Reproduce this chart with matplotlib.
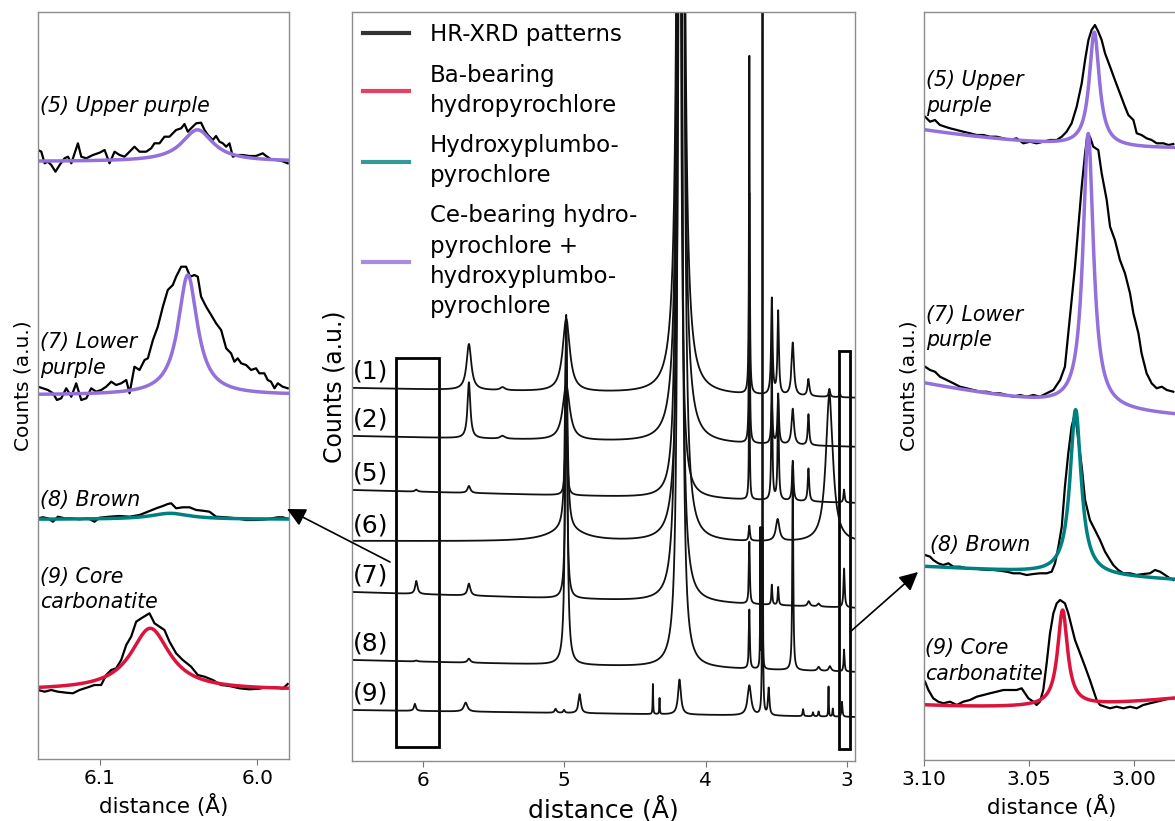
import numpy as np
import matplotlib.pyplot as plt
from matplotlib.patches import Rectangle, FancyArrowPatch
from matplotlib.lines import Line2D

# colours of the fitted phases
c_ba = 'crimson'          # Ba-bearing hydropyrochlore
c_pb = 'teal'             # hydroxyplumbopyrochlore
c_ce = 'mediumpurple'     # Ce-bearing hydropyrochlore + hydroxyplumbopyrochlore

# ---------------- middle panel: HR-XRD patterns (peak tables) ----------------
# each peak: (d-spacing in Å, height, half width in Å); counts are a.u.
pat_labels = ['(1)', '(2)', '(5)', '(6)', '(7)', '(8)', '(9)']
base_left = [373, 325, 271, 220, 169, 101, 51]     # baseline at 6.5 Å
base_right = [363, 314, 258, 218, 153, 89, 44]     # baseline at 2.95 Å

peaks_1 = [(5.673, 46, 0.02), (5.435, 3, 0.02), (4.985, 73, 0.03), (4.175, 4600, 0.01),
           (3.69, 338, 0.003), (3.531, 96, 0.006), (3.486, 83, 0.006), (3.383, 53, 0.01),
           (3.272, 17, 0.008), (3.124, 8, 0.006), (3.05, 4, 0.005)]
peaks_2 = [(5.673, 56, 0.012), (5.435, 3, 0.02), (4.985, 55, 0.03), (4.175, 3900, 0.01),
           (3.69, 250, 0.003), (3.531, 40, 0.006), (3.486, 50, 0.006), (3.383, 36, 0.01),
           (3.272, 31, 0.006)]
peaks_5 = [(6.045, 2, 0.01), (5.673, 7, 0.012), (4.985, 170, 0.005), (4.19, 1800, 0.01),
           (3.69, 150, 0.003), (3.531, 150, 0.004), (3.486, 100, 0.005), (3.383, 40, 0.006),
           (3.272, 33, 0.006), (3.02, 13, 0.005)]
peaks_6 = [(4.985, 200, 0.01), (4.985, 12, 0.15), (4.17, 3000, 0.01), (3.69, 15, 0.005),
           (3.49, 22, 0.015), (3.124, 148, 0.03)]
peaks_7 = [(6.045, 13, 0.01), (5.673, 12, 0.012), (4.985, 250, 0.0074), (4.185, 2400, 0.01),
           (3.69, 62, 0.004), (3.531, 20, 0.004), (3.486, 18, 0.004), (3.27, 5, 0.01),
           (3.2, 3, 0.01), (3.02, 39, 0.005)]
peaks_8 = [(6.045, 1, 0.01), (5.673, 4, 0.012), (4.985, 350, 0.009), (4.18, 3000, 0.008),
           (3.69, 59, 0.004), (3.612, 140, 0.002), (3.597, 140, 0.002), (3.383, 205, 0.004),
           (3.2, 4, 0.01), (3.12, 5, 0.01), (3.02, 22, 0.004)]
peaks_9 = [(6.055, 7, 0.008), (5.696, 9, 0.015), (5.06, 4, 0.008), (5.0, 3, 0.006),
           (4.89, 19, 0.01), (4.372, 30, 0.002), (4.325, 16, 0.002), (4.184, 35, 0.012),
           (3.69, 30, 0.015), (3.597, 900, 0.0015), (3.553, 27, 0.006), (3.31, 7, 0.004),
           (3.24, 4, 0.004), (3.2, 5, 0.004), (3.13, 30, 0.002), (3.1, 8, 0.003),
           (3.035, 15, 0.004)]
all_peaks = [peaks_1, peaks_2, peaks_5, peaks_6, peaks_7, peaks_8, peaks_9]

# ---------------- left panel (~6.05 Å reflection) ----------------
L5_d = [6.1390, 6.1369, 6.1348, 6.1327, 6.1306, 6.1279, 6.1253, 6.1222, 6.1200, 6.1179,
        6.1158, 6.1137, 6.1116, 6.1084, 6.1042, 6.1000, 6.0968, 6.0937, 6.0905, 6.0873,
        6.0842, 6.0810, 6.0779, 6.0747, 6.0705, 6.0673, 6.0652, 6.0620, 6.0589, 6.0557,
        6.0536, 6.0515, 6.0483, 6.0462, 6.0441, 6.0420, 6.0388, 6.0357, 6.0335, 6.0314,
        6.0283, 6.0262, 6.0240, 6.0219, 6.0198, 6.0177, 6.0156, 6.0125, 6.0093, 6.0051,
        6.0009, 5.9966, 5.9945, 5.9914, 5.9882, 5.9850, 5.9808]
L5_c = [609.0, 607.3, 595.7, 597.3, 594.0, 587.3, 594.0, 600.7, 602.3, 595.7,
        605.7, 615.7, 602.3, 600.7, 604.0, 606.3, 609.0, 595.7, 607.3, 604.0,
        602.3, 607.3, 612.3, 607.3, 607.3, 610.7, 615.7, 615.7, 622.3, 622.3,
        625.7, 629.0, 630.7, 635.0, 627.3, 630.7, 635.7, 636.3, 629.0, 624.0,
        619.0, 623.0, 617.3, 615.7, 612.3, 615.7, 602.3, 604.0, 604.0, 603.0,
        603.0, 605.7, 603.0, 599.7, 599.0, 598.3, 595.7]
L7_d = [6.1390, 6.1359, 6.1327, 6.1295, 6.1270, 6.1243, 6.1211, 6.1179, 6.1148, 6.1116,
        6.1084, 6.1053, 6.1021, 6.0990, 6.0958, 6.0926, 6.0895, 6.0863, 6.0831, 6.0810,
        6.0779, 6.0747, 6.0715, 6.0694, 6.0662, 6.0631, 6.0599, 6.0568, 6.0536, 6.0515,
        6.0483, 6.0452, 6.0426, 6.0399, 6.0378, 6.0357, 6.0325, 6.0293, 6.0262, 6.0230,
        6.0198, 6.0167, 6.0146, 6.0125, 6.0103, 6.0072, 6.0040, 6.0009, 5.9988, 5.9956,
        5.9935, 5.9914, 5.9892, 5.9871, 5.9840, 5.9808]
L7_c = [372.3, 370.7, 369.0, 365.7, 359.0, 360.7, 370.7, 362.3, 375.7, 359.0,
        360.7, 370.7, 367.3, 369.0, 372.3, 377.3, 374.0, 375.7, 379.0, 365.7,
        392.3, 389.0, 399.0, 400.7, 419.0, 432.3, 452.3, 469.0, 474.0, 482.3,
        492.3, 492.3, 482.3, 484.0, 482.3, 462.3, 452.3, 444.0, 435.7, 429.0,
        410.7, 405.7, 397.3, 400.7, 395.7, 394.0, 389.0, 390.7, 385.7, 385.7,
        379.0, 377.3, 370.7, 375.7, 372.3, 370.7]
L8_d = [6.1390, 6.1359, 6.1327, 6.1295, 6.1264, 6.1222, 6.1179, 6.1127, 6.1074, 6.1032,
        6.1000, 6.0937, 6.0873, 6.0810, 6.0747, 6.0694, 6.0641, 6.0599, 6.0568, 6.0546,
        6.0515, 6.0473, 6.0430, 6.0388, 6.0346, 6.0304, 6.0262, 6.0198, 6.0135, 6.0072,
        6.0009, 5.9945, 5.9871, 5.9840, 5.9808]
L8_c = [240.7, 241.7, 240.7, 237.3, 242.3, 240.7, 240.7, 239.7, 240.7, 237.3,
        241.3, 242.3, 243.0, 242.3, 244.0, 247.3, 250.7, 253.0, 255.0, 255.7,
        250.7, 251.7, 251.7, 249.0, 248.3, 247.3, 242.3, 241.7, 240.7, 239.0,
        239.0, 239.7, 241.7, 241.7, 240.3]
L9_d = [6.1390, 6.1348, 6.1306, 6.1264, 6.1211, 6.1169, 6.1127, 6.1074, 6.1032, 6.0990,
        6.0958, 6.0926, 6.0895, 6.0863, 6.0831, 6.0800, 6.0768, 6.0736, 6.0684, 6.0652,
        6.0620, 6.0589, 6.0557, 6.0515, 6.0473, 6.0420, 6.0378, 6.0335, 6.0283, 6.0230,
        6.0177, 6.0114, 6.0051, 5.9988, 5.9945, 5.9882, 5.9840, 5.9808]
L9_c = [69.0, 67.3, 69.0, 67.3, 66.3, 65.7, 69.0, 71.7, 74.0, 74.0,
        84.0, 89.0, 90.7, 99.0, 114.0, 122.3, 137.3, 140.7, 145.7, 135.7,
        132.3, 129.0, 117.3, 105.7, 99.0, 92.3, 84.0, 82.3, 79.0, 74.0,
        73.0, 70.7, 69.7, 70.3, 71.7, 71.7, 70.3, 75.0]
# fits: (baseline, centre, height, half width)
L5_fit = (597.5, 6.038, 31.7, 0.012)
L7_fit = (364.0, 6.0441, 120.0, 0.0074)
L8_fit = (239.7, 6.0553, 6.0, 0.015)
L9_fit = (69.0, 6.0679, 61.7, 0.015)

# ---------------- right panel (~3.02 Å reflection) ----------------
R5_d = [3.0995, 3.0971, 3.0948, 3.0924, 3.0900, 3.0876, 3.0844, 3.0813, 3.0781, 3.0749,
        3.0717, 3.0686, 3.0654, 3.0622, 3.0591, 3.0559, 3.0527, 3.0495, 3.0464, 3.0432,
        3.0400, 3.0368, 3.0344, 3.0321, 3.0297, 3.0273, 3.0249, 3.0233, 3.0217, 3.0202,
        3.0186, 3.0170, 3.0154, 3.0138, 3.0114, 3.0091, 3.0067, 3.0043, 3.0027, 3.0003,
        2.9987, 2.9964, 2.9940, 2.9916, 2.9892, 2.9860, 2.9836, 2.9813]
R5_c = [643.3, 638.3, 640.0, 635.0, 633.3, 631.7, 630.0, 628.3, 626.7, 625.0,
        625.0, 623.3, 623.3, 621.7, 620.0, 621.7, 616.7, 618.3, 616.7, 618.3,
        620.0, 620.0, 623.3, 628.3, 636.7, 653.3, 676.7, 700.0, 720.0, 730.0,
        735.0, 728.3, 720.0, 706.7, 693.3, 680.0, 666.7, 653.3, 645.0, 640.0,
        626.7, 625.0, 621.7, 620.0, 616.7, 616.7, 615.0, 616.0]
R7_d = [3.0995, 3.0971, 3.0948, 3.0924, 3.0892, 3.0860, 3.0829, 3.0797, 3.0765, 3.0733,
        3.0702, 3.0670, 3.0638, 3.0606, 3.0575, 3.0543, 3.0511, 3.0479, 3.0448, 3.0416,
        3.0384, 3.0352, 3.0329, 3.0313, 3.0297, 3.0281, 3.0265, 3.0249, 3.0233, 3.0222,
        3.0210, 3.0194, 3.0170, 3.0154, 3.0130, 3.0114, 3.0091, 3.0067, 3.0043, 3.0019,
        3.0003, 2.9979, 2.9964, 2.9940, 2.9916, 2.9892, 2.9868, 2.9844, 2.9813]
R7_c = [393.3, 390.0, 388.3, 383.3, 380.0, 376.7, 373.3, 371.7, 370.0, 368.3,
        368.3, 366.7, 366.7, 365.0, 363.3, 365.0, 363.3, 365.0, 363.3, 366.7,
        370.0, 380.0, 393.3, 426.7, 460.0, 493.3, 533.3, 573.3, 606.7, 625.0,
        623.3, 613.3, 610.0, 586.7, 560.0, 533.3, 520.0, 500.0, 486.7, 466.7,
        446.7, 426.7, 406.7, 386.7, 376.7, 371.7, 373.3, 370.0, 368.3]
R8_d = [3.0995, 3.0971, 3.0956, 3.0932, 3.0908, 3.0884, 3.0860, 3.0829, 3.0797, 3.0765,
        3.0733, 3.0702, 3.0670, 3.0638, 3.0606, 3.0575, 3.0543, 3.0511, 3.0479, 3.0448,
        3.0416, 3.0392, 3.0376, 3.0360, 3.0344, 3.0329, 3.0313, 3.0297, 3.0281, 3.0265,
        3.0249, 3.0233, 3.0210, 3.0186, 3.0162, 3.0138, 3.0114, 3.0099, 3.0075, 3.0051,
        3.0019, 2.9987, 2.9956, 2.9924, 2.9900, 2.9876, 2.9852, 2.9829, 2.9813]
R8_c = [205.0, 203.3, 200.0, 196.7, 195.0, 196.7, 193.3, 193.3, 191.7, 191.7,
        190.7, 190.0, 190.0, 189.3, 188.3, 186.7, 186.7, 185.0, 186.0, 186.7,
        186.7, 188.3, 196.7, 213.3, 233.3, 273.3, 306.7, 333.3, 346.7, 320.0,
        293.3, 260.0, 240.0, 230.0, 220.0, 208.3, 200.0, 195.0, 190.0, 186.7,
        186.7, 185.0, 186.0, 186.7, 190.0, 188.3, 185.0, 181.7, 180.0]
R9_d = [3.0995, 3.0979, 3.0956, 3.0932, 3.0908, 3.0876, 3.0844, 3.0813, 3.0781, 3.0749,
        3.0717, 3.0686, 3.0654, 3.0622, 3.0591, 3.0559, 3.0535, 3.0519, 3.0503, 3.0479,
        3.0464, 3.0448, 3.0432, 3.0416, 3.0400, 3.0384, 3.0368, 3.0352, 3.0329, 3.0313,
        3.0297, 3.0281, 3.0257, 3.0233, 3.0210, 3.0194, 3.0178, 3.0162, 3.0138, 3.0114,
        3.0083, 3.0051, 3.0019, 2.9987, 2.9956, 2.9924, 2.9892, 2.9860, 2.9829, 2.9813]
R9_c = [78.3, 70.0, 61.7, 58.3, 56.7, 58.3, 55.0, 58.3, 60.0, 63.3,
        65.0, 66.7, 68.3, 70.0, 70.0, 70.0, 71.7, 66.7, 61.7, 58.3,
        55.0, 58.3, 70.0, 96.7, 126.7, 146.7, 156.7, 160.0, 156.7, 146.7,
        133.3, 120.0, 106.7, 93.3, 80.0, 70.0, 60.0, 55.0, 53.3, 51.7,
        53.3, 51.7, 53.3, 51.7, 55.0, 56.7, 58.3, 60.0, 61.7, 61.7]
# fits: background b0 + b1*(d-3.04) + b2*(d-3.04)^2, then (centre, height, half width)
R5_bg, R5_pk = (616.5, 151.9, 1285), (3.0189, 114, 0.0029)
R7_bg, R7_pk = (357.0, 267.5, 1077), (3.0218, 274, 0.003)
R8_bg, R8_pk = (186.7, 112.0, 0), (3.0278, 165, 0.0032)
R9_bg, R9_pk = (54.08, -56.5, 1233), (3.0340, 95.5, 0.00286)


def lorentz(x, c, h, g):
    return h * g**2 / ((x - c)**2 + g**2)


plt.rcParams['font.family'] = 'DejaVu Sans'
fig = plt.figure(figsize=(11.75, 8.21), dpi=100)
ax_l = fig.add_axes([38/1175, 1-759/821, 251/1175, 747/821])
ax_m = fig.add_axes([352/1175, 1-761/821, 503/1175, 749/821])
ax_r = fig.add_axes([924/1175, 1-760/821, 256/1175, 748/821])

for ax in (ax_l, ax_m, ax_r):
    ax.set_yticks([])
    for s in ax.spines.values():
        s.set_color('0.55')
        s.set_linewidth(1.0)
    ax.tick_params(axis='x', colors='0.45', labelcolor='black', labelsize=14.5, length=4)

# ---- middle ----
xx = np.linspace(2.94, 6.5, 14000)
for lab, bl, br, pk in zip(pat_labels, base_left, base_right, all_peaks):
    y = bl + (br - bl) * (6.5 - xx) / (6.5 - 2.95)
    for c, h, g in pk:
        y = y + lorentz(xx, c, h, g)
    ax_m.plot(xx, y, color='#111111', lw=1.3)
    ax_m.text(0.002, bl + 16, lab, transform=ax_m.get_yaxis_transform(),
              fontsize=18, ha='left', va='center')
ax_m.set_xlim(6.5, 2.943)
ax_m.set_ylim(0, 749)
ax_m.set_xticks([6, 5, 4, 3])
ax_m.set_xlabel('distance (Å)', fontsize=18)
ax_m.set_ylabel('Counts (a.u.)', fontsize=17)
ax_m.add_patch(Rectangle((5.887, 14), 6.19 - 5.887, 389, fill=False, ec='black', lw=2))
ax_m.add_patch(Rectangle((2.979, 12), 3.057 - 2.979, 398, fill=False, ec='black', lw=2))

handles = [Line2D([], [], color='black', lw=3, alpha=0.8),
           Line2D([], [], color=c_ba, lw=3, alpha=0.8),
           Line2D([], [], color=c_pb, lw=3, alpha=0.8),
           Line2D([], [], color=c_ce, lw=3, alpha=0.8)]
labels = ['HR-XRD patterns', 'Ba-bearing\nhydropyrochlore', 'Hydroxyplumbo-\npyrochlore',
          'Ce-bearing hydro-\npyrochlore +\nhydroxyplumbo-\npyrochlore']
leg = ax_m.legend(handles, labels, loc='upper left', frameon=False, fontsize=16.5,
                  borderaxespad=0.1, labelspacing=0.75, handletextpad=0.9)
for t in leg.get_texts():
    t.set_linespacing(1.4)

# ---- left ----
xl = np.linspace(5.975, 6.145, 800)
for d, c in [(L5_d, L5_c), (L7_d, L7_c), (L8_d, L8_c), (L9_d, L9_c)]:
    ax_l.plot(d, c, color='black', lw=1.6)
for fit, col in [(L5_fit, c_ce), (L7_fit, c_ce), (L8_fit, c_pb), (L9_fit, c_ba)]:
    b, c, h, g = fit
    ax_l.plot(xl, b + lorentz(xl, c, h, g), color=col, lw=2.5)
ax_l.set_xlim(6.139, 5.980)
ax_l.set_ylim(0, 747)
ax_l.set_xticks([6.1, 6.0])
ax_l.set_xlabel('distance (Å)', fontsize=15.5)
ax_l.set_ylabel('Counts (a.u.)', fontsize=14.5)
tkw = dict(transform=ax_l.transAxes, fontsize=14.8, style='italic', ha='left',
           va='center', linespacing=1.35)
ax_l.text(0.008, 0.874, '(5) Upper purple', **tkw)
ax_l.text(0.008, 0.541, '(7) Lower\npurple', **tkw)
ax_l.text(0.008, 0.347, '(8) Brown', **tkw)
ax_l.text(0.008, 0.227, '(9) Core\ncarbonatite', **tkw)

# ---- right ----
xr = np.linspace(2.97, 3.105, 1500)
for d, c in [(R5_d, R5_c), (R7_d, R7_c), (R8_d, R8_c), (R9_d, R9_c)]:
    ax_r.plot(d, c, color='black', lw=1.6)
for bg, pk, col in [(R5_bg, R5_pk, c_ce), (R7_bg, R7_pk, c_ce),
                    (R8_bg, R8_pk, c_pb), (R9_bg, R9_pk, c_ba)]:
    u = xr - 3.04
    y = bg[0] + bg[1] * u + bg[2] * u**2 + lorentz(xr, *pk)
    ax_r.plot(xr, y, color=col, lw=2.5)
ax_r.set_xlim(3.10, 2.9781)
ax_r.set_ylim(0, 748)
ax_r.set_xticks([3.10, 3.05, 3.00])
ax_r.set_xticklabels(['3.10', '3.05', '3.00'])
ax_r.set_xlabel('distance (Å)', fontsize=15.5)
ax_r.set_ylabel('Counts (a.u.)', fontsize=14.5)
tkw['transform'] = ax_r.transAxes
ax_r.text(0.008, 0.892, '(5) Upper\npurple', **tkw)
ax_r.text(0.008, 0.578, '(7) Lower\npurple', **tkw)
ax_r.text(0.023, 0.287, '(8) Brown', **tkw)
ax_r.text(0.004, 0.132, '(9) Core\ncarbonatite', **tkw)

# arrows from the boxes to the zoom panels
for tail, head in [((390, 562), (287, 509)), ((850, 632), (918, 572))]:
    arr = FancyArrowPatch((tail[0]/1175, 1-tail[1]/821), (head[0]/1175, 1-head[1]/821),
                          transform=fig.transFigure, arrowstyle='-|>', color='black',
                          lw=1.2, mutation_scale=28, shrinkA=0, shrinkB=0)
    fig.add_artist(arr)

fig.savefig('out.png', dpi=100)
